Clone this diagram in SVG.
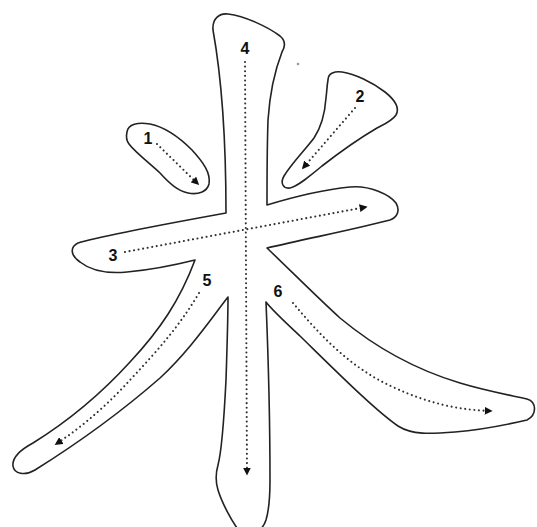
<svg xmlns="http://www.w3.org/2000/svg" width="537" height="527" viewBox="0 0 537 527">
<defs>
<style>
.outline{fill:#fff;stroke:#222;stroke-width:1.6;stroke-linejoin:round}
.dots{fill:none;stroke:#333;stroke-width:2.1;stroke-linecap:round;stroke-dasharray:0.01 4.6;marker-end:url(#ah)}
.lbl{font-family:"Liberation Sans",Arial,sans-serif;font-weight:bold;font-size:16px;fill:#111;text-anchor:middle}
</style>
<marker id="ah" viewBox="0 0 10 10" refX="8" refY="5" markerWidth="8" markerHeight="8" markerUnits="userSpaceOnUse" orient="auto">
<path d="M0,0 L10,5 L0,10 Z" fill="#111"/>
</marker>
</defs>
<rect width="537" height="527" fill="#fff"/>
<g id="stroke-main">
<path class="outline" d="M213,30 C212,18 220,13 228,14 C245,16 268,27 280,36 C286,41 285,47 282,52 C275,70 270,90 268,120 C267,150 267,180 267,205 C290,198 320,190 350,187 C370,185 390,195 396,203 C400,210 398,217 390,220 C360,228 310,238 267,248 C290,270 320,300 340,318 C370,343 410,368 460,383 C490,392 515,396 527,399 C537,402 537,415 527,420 C510,424 480,430 455,432 C430,434 412,435 398,426 C375,410 340,375 300,336 C285,322 272,310 266,302 C268,350 270,420 270,480 C270,500 269,510 266,520 C262,532 248,540 240,532 C232,522 222,503 218,490 C215,480 216,472 218,465 C222,450 224,420 226,380 C227,350 228,320 228,297 C210,320 190,350 160,378 C120,413 75,445 35,470 C25,476 14,474 13,466 C12,458 20,450 33,443 C70,420 100,395 130,362 C160,330 180,300 195,260 C175,265 150,270 127,272 C105,274 90,270 80,262 C70,255 70,247 78,243 C100,236 160,225 226,213 C226,150 222,80 213,30 Z"/>
</g>
<g id="stroke-1">
<path class="outline" d="M127,132 C128,124 138,122 150,124 C165,127 180,138 192,150 C203,162 211,173 209,184 C207,192 198,195 188,193 C178,191 170,184 160,173 C148,162 135,152 129,144 C126,140 126,136 127,132 Z"/>
</g>
<g id="stroke-2">
<path class="outline" d="M328,80 C328,73 335,71 342,72 C355,74 372,82 385,92 C395,100 400,108 396,115 C392,121 385,124 377,128 C360,138 340,152 322,166 C310,176 298,186 290,188 C283,189 280,183 284,176 C292,163 305,150 314,138 C322,126 325,112 326,98 C327,90 327,85 328,80 Z"/>
</g>
<circle cx="298" cy="64" r="1.3" fill="#999"/>
<g id="connectors">
<path class="dots" d="M157,144 L198,184"/>
<path class="dots" d="M355,108 L303,168"/>
<path class="dots" d="M125,252 L366,207"/>
<path class="dots" d="M245,62 L247,474"/>
<path class="dots" d="M199,293 C180,325 160,348 130,380 C110,402 85,425 56,444"/>
<path class="dots" d="M293,303 C320,335 350,368 395,388 C430,404 460,410 491,411"/>
</g>
<g id="labels">
<text class="lbl" x="148" y="144">1</text>
<text class="lbl" x="360" y="102">2</text>
<text class="lbl" x="113" y="261">3</text>
<text class="lbl" x="245" y="54">4</text>
<text class="lbl" x="207" y="286">5</text>
<text class="lbl" x="278" y="297">6</text>
</g>
</svg>
